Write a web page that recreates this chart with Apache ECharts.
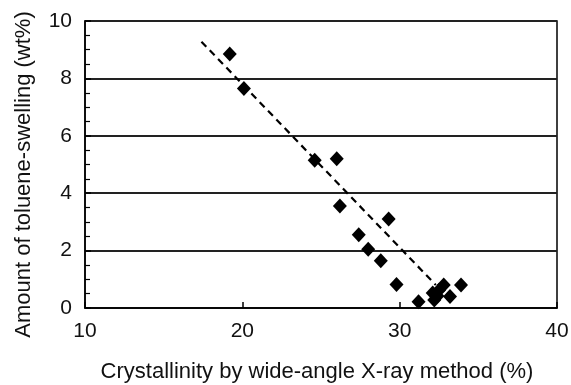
<!DOCTYPE html>
<html>
<head>
<meta charset="utf-8">
<script src="https://cdn.jsdelivr.net/npm/echarts@6/dist/echarts.min.js"></script>
<style>
  html, body { margin: 0; padding: 0; background: #fff; }
  #chart { width: 571px; height: 385px; }
</style>
</head>
<body>
<div id="chart"></div>
<script>
// crystallinity (%) vs toluene swelling (wt%)
const crystallinity = [19.2, 20.1, 24.6, 26.0, 26.2, 27.4, 28.0, 29.3, 28.8, 29.8, 31.2, 32.1, 32.2, 32.4, 32.5, 32.8, 33.2, 33.9]
const swelling = [8.85, 7.65, 5.15, 5.2, 3.55, 2.55, 2.05, 3.1, 1.65, 0.82, 0.22, 0.52, 0.28, 0.42, 0.62, 0.8, 0.4, 0.8]
// dashed trend line end points
const trendX = [17.4, 32.3]
const trendY = [9.28, 0.8]

const xTicks = [10, 20, 30, 40]
const yTicks = [0, 2, 4, 6, 8, 10]

const chart = echarts.init(document.getElementById("chart"))
const font = "Liberation Sans, Arial, sans-serif"

chart.setOption({
  animation: false,
  grid: {
    left: 85,
    right: 14,
    top: 21,
    bottom: 77,
    outerBoundsMode: "none",
    show: true,
    borderColor: "#000",
    borderWidth: 1.5,
  },
  xAxis: {
    type: "value",
    min: xTicks[0],
    max: xTicks[xTicks.length - 1],
    interval: 10,
    name: "Crystallinity by wide-angle X-ray method (%)",
    nameLocation: "middle",
    nameGap: 53,
    nameTextStyle: { fontFamily: font, fontSize: 22, color: "#111", padding: [0, 8, 0, 0] },
    axisLine: { lineStyle: { color: "#000", width: 1.5 } },
    axisTick: { inside: true, length: 6, lineStyle: { color: "#000", width: 1.5 } },
    axisLabel: { fontFamily: font, fontSize: 21, color: "#111", margin: 13 },
    splitLine: { show: false },
  },
  yAxis: {
    type: "value",
    min: yTicks[0],
    max: yTicks[yTicks.length - 1],
    interval: 2,
    name: "Amount of toluene-swelling (wt%)",
    nameLocation: "middle",
    nameGap: 50,
    nameTextStyle: { fontFamily: font, fontSize: 22, color: "#111", padding: [0, 20, 0, 0] },
    axisLine: { lineStyle: { color: "#000", width: 1.5 } },
    axisTick: { inside: true, length: 6, lineStyle: { color: "#000", width: 1.5 } },
    minorTick: { show: true, splitNumber: 4, length: 5, lineStyle: { color: "#000", width: 1.2 } },
    axisLabel: { fontFamily: font, fontSize: 21, color: "#111", margin: 13 },
    splitLine: { show: true, lineStyle: { color: "#222", width: 1.8 } },
  },
  series: [
    {
      type: "line",
      data: trendX.map((x, i) => [x, trendY[i]]),
      symbol: "none",
      lineStyle: { color: "#000", width: 2.2, type: [7, 5] },
      z: 2,
    },
    {
      type: "scatter",
      data: crystallinity.map((x, i) => [x, swelling[i]]),
      symbol: "diamond",
      symbolSize: [14, 15],
      itemStyle: { color: "#000", opacity: 1 },
      z: 3,
    },
  ],
})
</script>
</body>
</html>
